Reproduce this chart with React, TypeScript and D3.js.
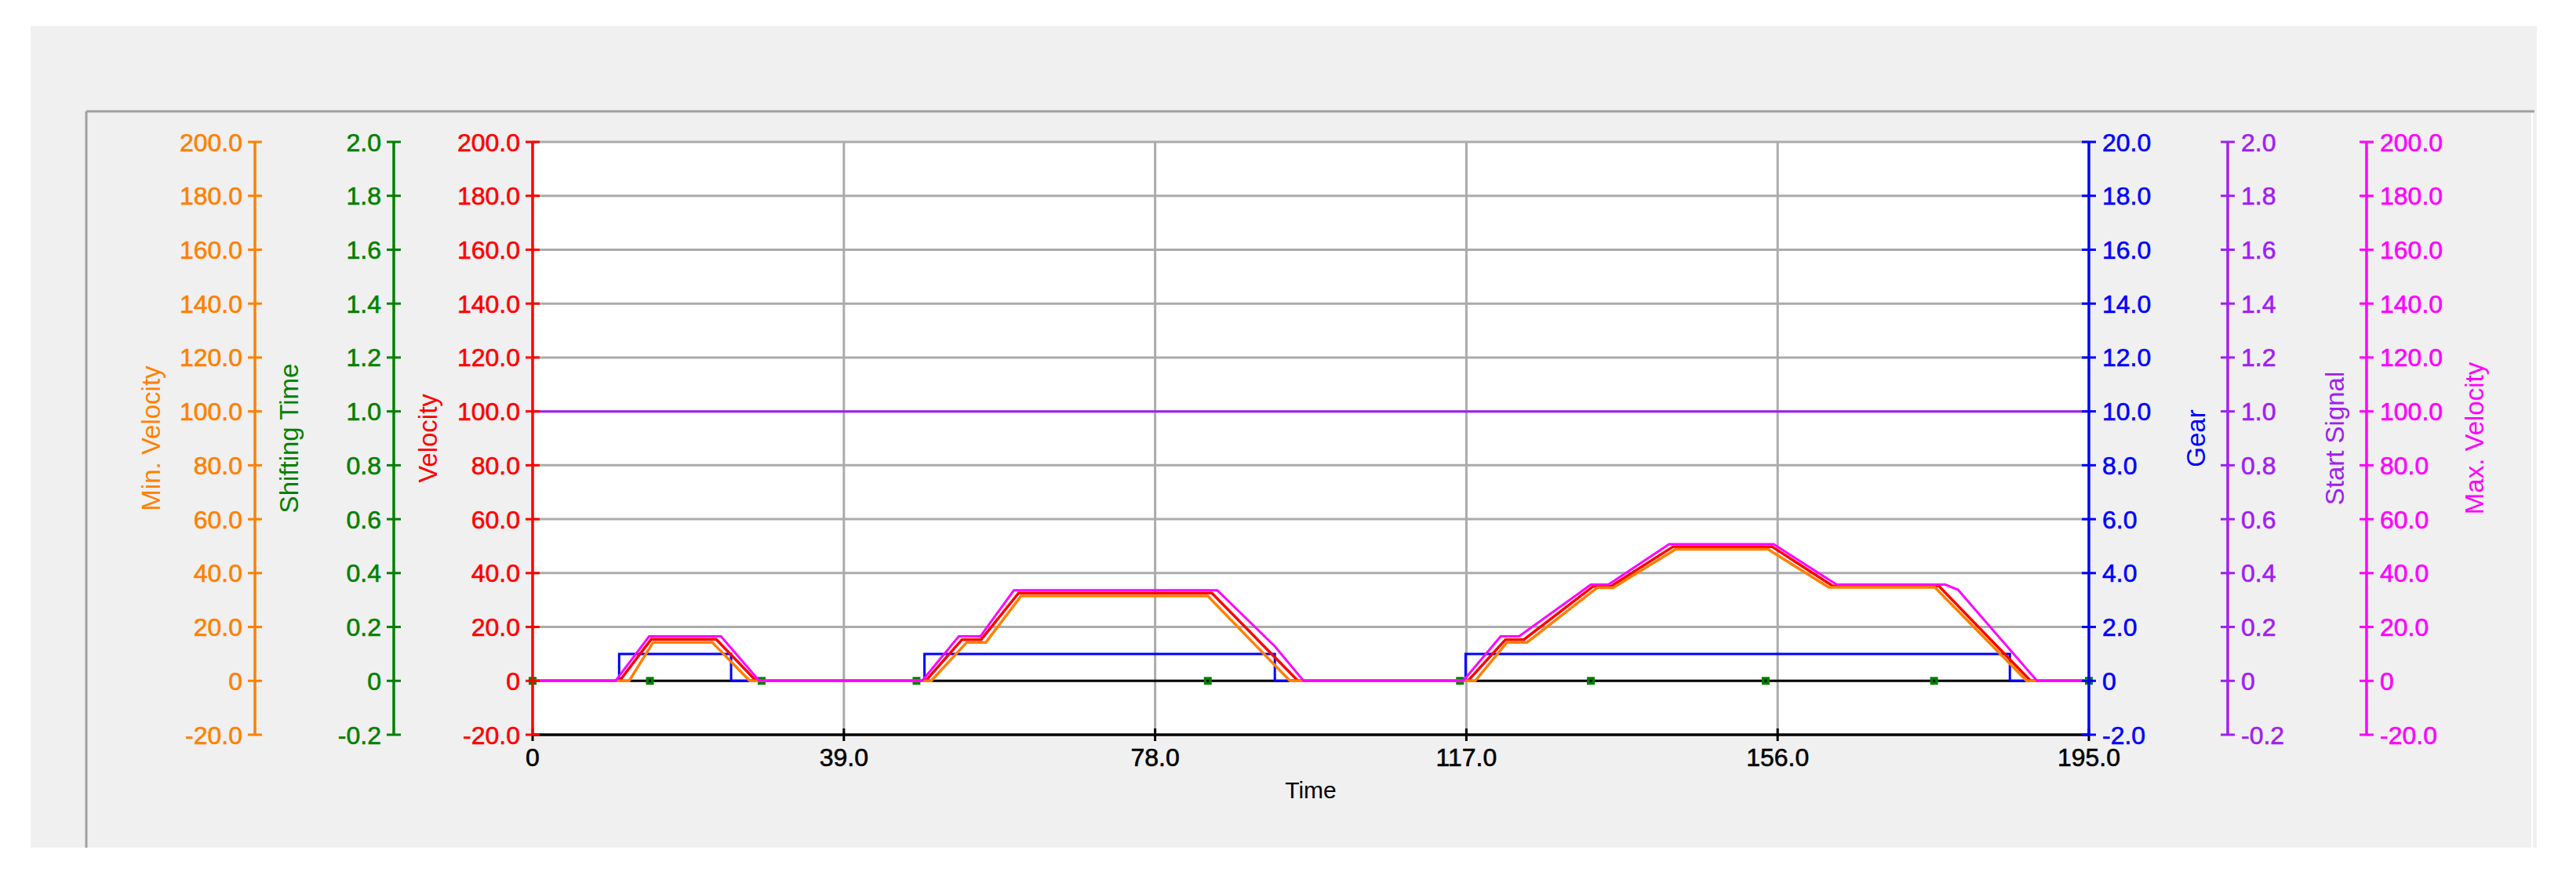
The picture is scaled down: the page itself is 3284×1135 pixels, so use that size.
import React from "react";
import * as d3 from "d3";

// ---- data ----
const timeTicks = [0, 39, 78, 117, 156, 195];
const velocityTicks = d3.range(-20, 201, 20);
const gearTicks = d3.range(-2, 21, 2);
const signalTicks = d3.range(-2, 21, 2).map((v) => v / 10);

const maxVelocity: [number, number][] = [
  [0, 0], [10.4, 0], [14.6, 16.5], [23.6, 16.5], [28.4, 0],
  [48.8, 0], [53.4, 16.5], [56.1, 16.5], [60.3, 33.6], [85.8, 33.6], [93.0, 12.8], [96.6, 0],
  [116.6, 0], [121.3, 16.5], [123.6, 16.5], [132.6, 35.7], [134.8, 35.7], [142.4, 50.7],
  [155.5, 50.7], [163.4, 35.7], [177.0, 35.7], [178.6, 33.8], [188.5, 0], [195, 0],
];
const velocity: [number, number][] = [
  [0, 0], [10.9, 0], [14.85, 15.4], [23.0, 15.4], [28.0, 0],
  [49.25, 0], [53.8, 15.3], [56.2, 15.3], [60.9, 32.6], [85.1, 32.6], [95.9, 0],
  [117.2, 0], [121.9, 15.3], [124.2, 15.3], [132.9, 35.1], [135.1, 35.1], [142.9, 49.8],
  [155.3, 49.8], [162.9, 35.2], [176.2, 35.2], [187.7, 0], [195, 0],
];
const minVelocity: [number, number][] = [
  [0, 0], [12.1, 0], [15.1, 14.3], [22.5, 14.3], [27.2, 0],
  [49.95, 0], [54.4, 14.3], [56.8, 14.3], [61.2, 31.5], [84.6, 31.5], [94.9, 0],
  [118.1, 0], [122.1, 14.3], [124.6, 14.3], [133.4, 34.6], [135.4, 34.6], [143.2, 48.8],
  [154.8, 48.8], [162.4, 34.7], [175.7, 34.7], [187.2, 0], [195, 0],
];
const gear: [number, number][] = [
  [0, 0], [10.84, 1], [24.87, 0], [49.1, 1], [93.0, 0], [116.9, 1], [185.1, 0], [195, 0],
];
const shiftingTime: [number, number][] = [
  [0, 0], [14.7, 0], [28.7, 0], [48.1, 0], [84.6, 0], [116.2, 0], [132.6, 0], [154.5, 0], [175.6, 0], [195, 0],
];
const startSignal: [number, number][] = [
  [0, 1], [195, 1],
];

// ---- styling / layout ----
const W = 3284, H = 1135;
const PL = 679, PR = 2663, PT = 181, PB = 937;
const FONT = "'Liberation Sans', Arial, sans-serif";
const C = {
  orange: "#ff8000", green: "#008000", red: "#ff0000",
  blue: "#0000ff", purple: "#a020f0", magenta: "#ff00ff",
  grid: "#ababab", bg: "#f0f0f0", border: "#a0a0a0",
};

const x = d3.scaleLinear().domain([0, 195]).range([PL, PR]);
const yVel = d3.scaleLinear().domain([-20, 200]).range([PB, PT]);
const yGear = d3.scaleLinear().domain([-2, 20]).range([PB, PT]);
const ySig = d3.scaleLinear().domain([-0.2, 2.0]).range([PB, PT]);

const fmt = (v: number, dec: number) => (Math.abs(v) < 1e-9 ? "0" : v.toFixed(dec));

type AxisProps = {
  x0: number; scale: d3.ScaleLinear<number, number>; ticks: number[]; color: string;
  side: "left" | "right"; title: string; titleX: number; dec: number;
};

function YAxis({ x0, scale, ticks, color, side, title, titleX, dec }: AxisProps) {
  const [r0, r1] = scale.range();
  return (
    <g>
      <line x1={x0} x2={x0} y1={r1} y2={r0} stroke={color} strokeWidth={3.5} />
      {ticks.map((t) => (
        <g key={t}>
          <line x1={x0 - 9} x2={x0 + 9} y1={scale(t)} y2={scale(t)} stroke={color} strokeWidth={3} />
          <text
            x={side === "left" ? x0 - 16 : x0 + 17}
            y={scale(t) + 11.5}
            textAnchor={side === "left" ? "end" : "start"}
            fill={color}
            stroke={color}
            strokeWidth={0.6}
            fontFamily={FONT}
            fontSize={32}
          >
            {fmt(t, dec)}
          </text>
        </g>
      ))}
      <text
        transform={`translate(${titleX},${(r0 + r1) / 2}) rotate(-90)`}
        textAnchor="middle"
        dominantBaseline="central"
        fill={color}
        fontFamily={FONT}
        fontSize={33}
      >
        {title}
      </text>
    </g>
  );
}

export default function App() {
  const lineV = d3.line<[number, number]>().x((d) => x(d[0])).y((d) => yVel(d[1]));
  const lineG = d3.line<[number, number]>().x((d) => x(d[0])).y((d) => yGear(d[1])).curve(d3.curveStepAfter);
  const lineS = d3.line<[number, number]>().x((d) => x(d[0])).y((d) => ySig(d[1]));

  return (
    <svg width={W} height={H} style={{ position: "absolute", left: 0, top: 0, background: "#fff" }}>
      <rect x={39} y={33} width={3195} height={1048} fill={C.bg} />
      <line x1={110} x2={3231} y1={142} y2={142} stroke={C.border} strokeWidth={3} />
      <line x1={110} x2={110} y1={142} y2={1081} stroke={C.border} strokeWidth={3} />
      <line x1={3228} x2={3228} y1={144} y2={1081} stroke="#ffffff" strokeWidth={2} />

      <rect x={PL} y={PT} width={PR - PL} height={PB - PT} fill="#fff" />

      {/* grid */}
      {velocityTicks.filter((t) => t > -20).map((t) => (
        <line key={"h" + t} x1={PL} x2={PR} y1={yVel(t)} y2={yVel(t)} stroke={C.grid} strokeWidth={3} />
      ))}
      {timeTicks.filter((t) => t > 0 && t < 195).map((t) => (
        <line key={"v" + t} x1={x(t)} x2={x(t)} y1={PT} y2={PB} stroke={C.grid} strokeWidth={3} />
      ))}

      {/* series */}
      <path d={lineS(startSignal) || ""} fill="none" stroke={C.purple} strokeWidth={3} />
      <path d={lineS(shiftingTime) || ""} fill="none" stroke="#000" strokeWidth={3} />
      {shiftingTime.map((d, i) => (
        <g key={"m" + i}>
          <rect x={x(d[0]) - 5} y={ySig(d[1]) - 5} width={10} height={10} fill={C.green} />
          <rect x={x(d[0]) - 1.5} y={ySig(d[1]) - 1.5} width={3} height={3} fill="#000" />
        </g>
      ))}
      <path d={lineG(gear) || ""} fill="none" stroke={C.blue} strokeWidth={3} />
      <path d={lineV(velocity) || ""} fill="none" stroke={C.red} strokeWidth={3.5} />
      <path d={lineV(minVelocity) || ""} fill="none" stroke={C.orange} strokeWidth={3.5} />
      <path d={lineV(maxVelocity) || ""} fill="none" stroke={C.magenta} strokeWidth={3} />

      {/* x axis */}
      <line x1={PL} x2={PR} y1={PB} y2={PB} stroke="#000" strokeWidth={3.5} />
      {timeTicks.map((t) => (
        <g key={"xt" + t}>
          <line x1={x(t)} x2={x(t)} y1={PB - 8} y2={PB + 8} stroke="#000" strokeWidth={3} />
          <text x={x(t)} y={977} textAnchor="middle" fontFamily={FONT} fontSize={32} fill="#000" stroke="#000" strokeWidth={0.6}>
            {fmt(t, 1)}
          </text>
        </g>
      ))}
      <text x={(PL + PR) / 2} y={1018} textAnchor="middle" fontFamily={FONT} fontSize={30} fill="#000">
        Time
      </text>

      {/* left axes */}
      <YAxis x0={325} scale={yVel} ticks={velocityTicks} color={C.orange} side="left" title="Min. Velocity" titleX={192} dec={1} />
      <YAxis x0={502} scale={ySig} ticks={signalTicks} color={C.green} side="left" title="Shifting Time" titleX={368} dec={1} />
      <YAxis x0={679} scale={yVel} ticks={velocityTicks} color={C.red} side="left" title="Velocity" titleX={545} dec={1} />
      {/* right axes */}
      <YAxis x0={2663} scale={yGear} ticks={gearTicks} color={C.blue} side="right" title="Gear" titleX={2799} dec={1} />
      <YAxis x0={2840} scale={ySig} ticks={signalTicks} color={C.purple} side="right" title="Start Signal" titleX={2976} dec={1} />
      <YAxis x0={3017} scale={yVel} ticks={velocityTicks} color={C.magenta} side="right" title="Max. Velocity" titleX={3154} dec={1} />
    </svg>
  );
}
